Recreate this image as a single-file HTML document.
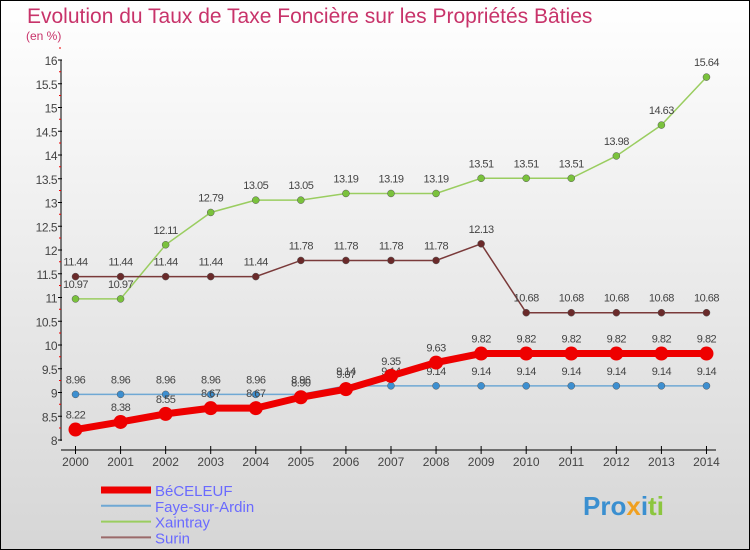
<!DOCTYPE html>
<html><head><meta charset="utf-8"><style>
body{margin:0;width:750px;height:550px;overflow:hidden;font-family:"Liberation Sans",sans-serif}
#wrap{position:absolute;left:0;top:0;width:748px;height:548px;border:1px solid #000;background:linear-gradient(#fff,#d6d6d6)}
</style></head><body>
<div id="wrap">
<svg id="c" width="750" height="550" style="position:absolute;left:-1px;top:-1px">
<text x="27" y="23" font-size="21" fill="#c8336a">Evolution du Taux de Taxe Foncière sur les Propriétés Bâties</text>
<text x="26" y="40" font-size="12" fill="#c8336a">(en %)</text>
<g id="ax"></g><g id="series"></g>
<text x="583" y="515" font-size="26" font-weight="bold" fill="#3a8fd0">Pro<tspan fill="#f0a020">x</tspan><tspan fill="#3a8fd0">i</tspan><tspan fill="#8cc63f">ti</tspan></text>
</svg>
</div>
<script>
const years=[2000,2001,2002,2003,2004,2005,2006,2007,2008,2009,2010,2011,2012,2013,2014];
const yTicks=[8,8.5,9,9.5,10,10.5,11,11.5,12,12.5,13,13.5,14,14.5,15,15.5,16];
const beceleuf=[8.22,8.38,8.55,8.67,8.67,8.90,9.07,9.35,9.63,9.82,9.82,9.82,9.82,9.82,9.82];
const faye=[8.96,8.96,8.96,8.96,8.96,8.96,9.14,9.14,9.14,9.14,9.14,9.14,9.14,9.14,9.14];
const xaintray=[10.97,10.97,12.11,12.79,13.05,13.05,13.19,13.19,13.19,13.51,13.51,13.51,13.98,14.63,15.64];
const surin=[11.44,11.44,11.44,11.44,11.44,11.78,11.78,11.78,11.78,12.13,10.68,10.68,10.68,10.68,10.68];
const seriesNames=["BéCELEUF","Faye-sur-Ardin","Xaintray","Surin"];
const NS="http://www.w3.org/2000/svg";
const X=i=>75.5+i*45.07, Y=v=>440-(v-8)*47.5;
function mk(p,t,a){const e=document.createElementNS(NS,t);for(const k in a)e.setAttribute(k,a[k]);p.appendChild(e);return e;}
const ax=document.getElementById('ax');
const yl=mk(ax,'line',{x1:61,y1:60,x2:61,y2:441,stroke:'#000'});


const xl=mk(ax,'line',{x1:61,y1:450,x2:716,y2:450,stroke:'#000'});


yTicks.forEach(v=>{mk(ax,'line',{x1:58,y1:Y(v),x2:62,y2:Y(v),stroke:'#000'});
mk(ax,'line',{x1:59,y1:Y(v)-12,x2:61,y2:Y(v)-12,stroke:'#e00'});
const t=mk(ax,'text',{x:57,y:Y(v)+5,'font-size':12,'text-anchor':'end',fill:'#444','letter-spacing':'-0.5'});t.textContent=String(v);

});
years.forEach((y,i)=>{mk(ax,'line',{x1:X(i),y1:446,x2:X(i),y2:454,stroke:'#000'});
const t=mk(ax,'text',{x:X(i),y:466,'font-size':12,'text-anchor':'middle',fill:'#444'});t.textContent=y;

});
const sg=document.getElementById('series');
function draw(vals,color,w,r,name,dot){const g=mk(sg,'g',{});


mk(g,'polyline',{points:vals.map((v,i)=>X(i)+','+Y(v)).join(' '),fill:'none',stroke:color,'stroke-width':w});
vals.forEach((v,i)=>{const c=mk(g,'circle',{cx:X(i),cy:Y(v),r:r,fill:dot,stroke:color==dot?'none':'#555','stroke-width':0.5});


const t=mk(g,'text',{x:X(i),y:Y(v)-11,'font-size':11,'text-anchor':'middle',fill:'#444','letter-spacing':'-0.5'});t.textContent=v.toFixed(2);

});}
draw(xaintray,'#9acd60',1.5,3.5,'series-xaintray','#7ac23c');
draw(surin,'#7a3a3a',1.5,3.5,'series-surin','#6a2a2a');
draw(faye,'#6fa8d4',1.5,3.5,'series-faye-sur-ardin','#3d8fd0');
draw(beceleuf,'#ee0000',7,7,'series-beceleuf','#ee0000');
const cols=['#ee0000','#6fa8d4','#9acd60','#9a6a6a'],ws=[7,2,2,2];
seriesNames.forEach((n,i)=>{const y=490+i*15.8;const g=mk(sg,'g',{});


mk(g,'line',{x1:101,y1:y,x2:151,y2:y,stroke:cols[i],'stroke-width':ws[i]});
const t=mk(g,'text',{x:155,y:y+6,'font-size':15,fill:'#6a6aff'});t.textContent=n;});
</script>
</body></html>
